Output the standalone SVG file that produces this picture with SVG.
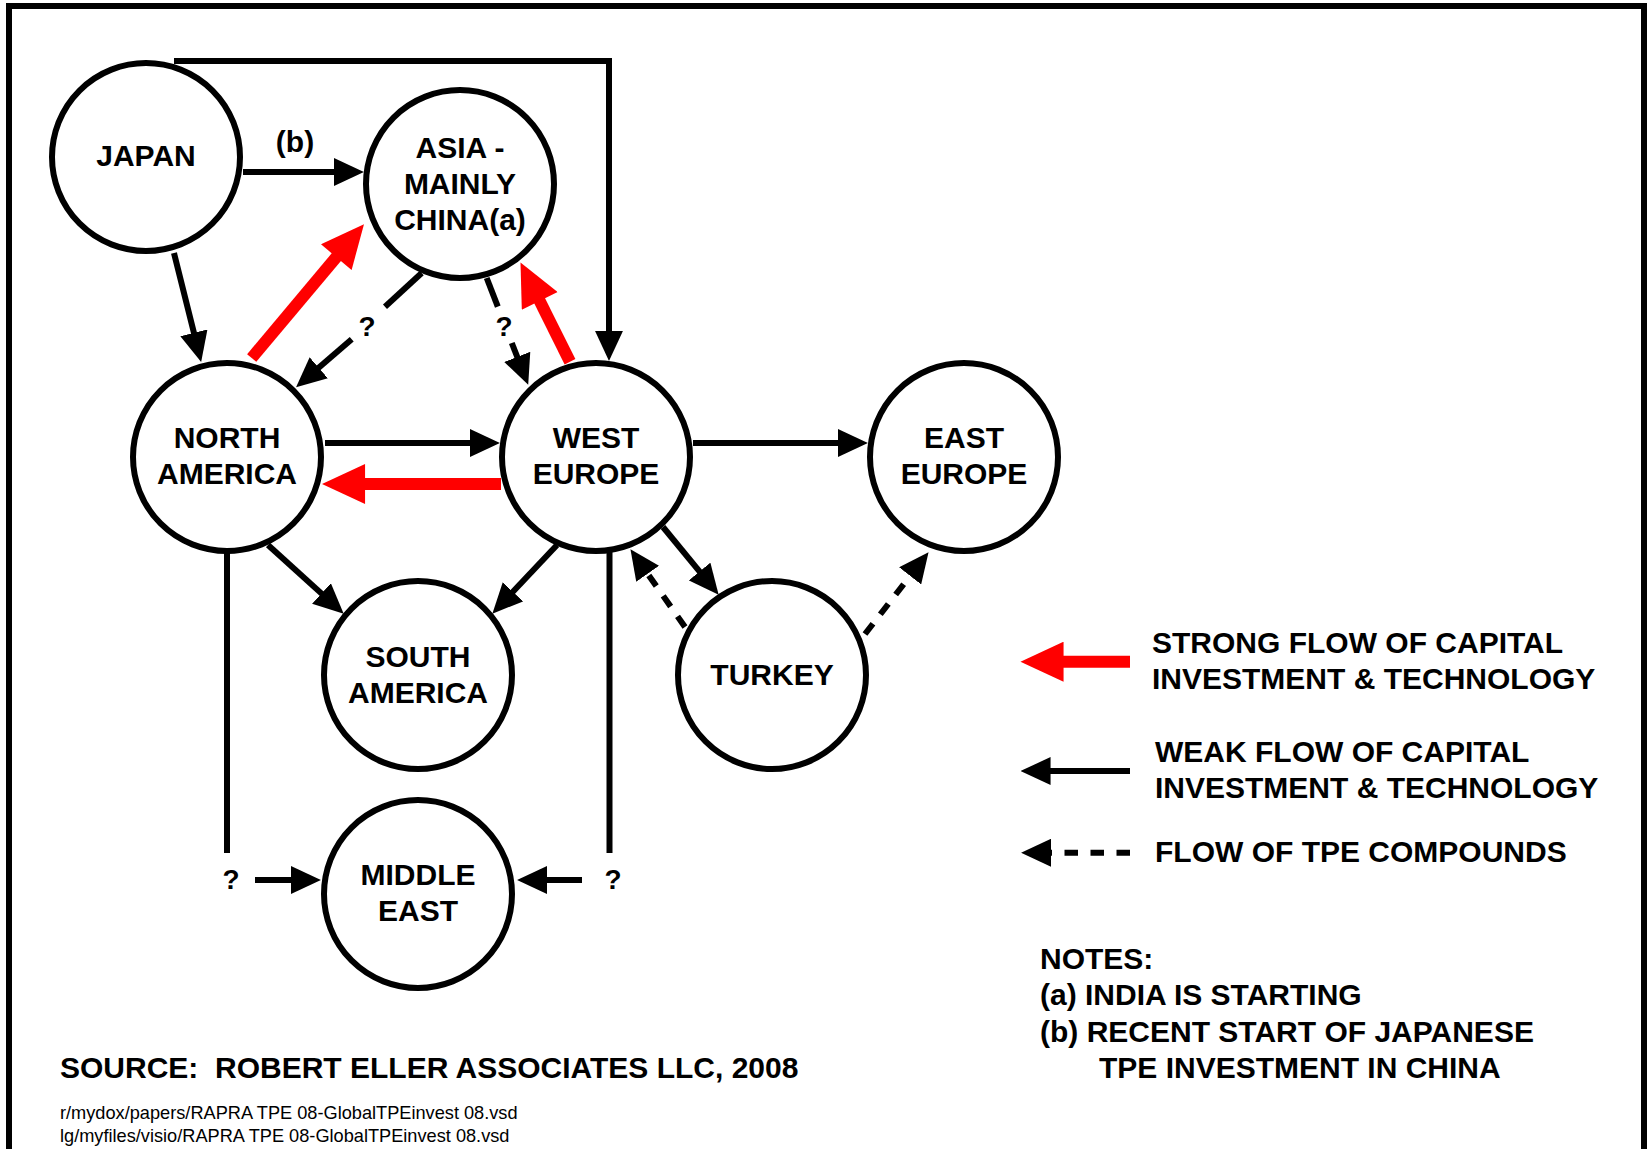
<svg xmlns="http://www.w3.org/2000/svg" width="1648" height="1149" viewBox="0 0 1648 1149">
<style>
.node circle{fill:#fff;stroke:#000;stroke-width:6}
text{font-family:"Liberation Sans",Arial,sans-serif;font-weight:bold;font-size:30px;fill:#000;white-space:pre}
.nt{text-anchor:middle}
.q{font-size:28px;text-anchor:middle}
.small{font-weight:normal;font-size:18.2px}
.blk{stroke:#000;stroke-width:6;fill:none}
.dash{stroke:#000;stroke-width:6;fill:none;stroke-dasharray:13 12}
.red{stroke:#ff0000;stroke-width:12;fill:none}
</style>
<defs>
<marker id="ah" markerUnits="userSpaceOnUse" markerWidth="30" markerHeight="28" viewBox="0 0 29 27" refX="2" refY="13.5" orient="auto">
<path d="M0,0 L29,13.5 L0,27 z" fill="#000"/>
</marker>
<marker id="ahr" markerUnits="userSpaceOnUse" markerWidth="44" markerHeight="40" viewBox="0 0 42 39" refX="2" refY="19.5" orient="auto">
<path d="M0,0 L42,19.5 L0,39 z" fill="#ff0000"/>
</marker>
</defs>
<rect x="0" y="0" width="1648" height="1149" fill="#fff"/>
<rect x="9" y="6" width="1635" height="1170" fill="none" stroke="#000" stroke-width="6"/>

<g id="connectors">
<line class="blk" x1="243" y1="172" x2="336" y2="172" marker-end="url(#ah)"/>
<line class="blk" x1="174" y1="253" x2="194.4" y2="334.8" marker-end="url(#ah)"/>
<polyline class="blk" points="174,61 609,61 609,333" marker-end="url(#ah)"/>
<line class="blk" x1="421.7" y1="273" x2="385" y2="306.7"/>
<line class="blk" x1="351.7" y1="339.3" x2="317.2" y2="369.1" marker-end="url(#ah)"/>
<line class="blk" x1="486.7" y1="278" x2="497.8" y2="306.7"/>
<line class="blk" x1="511.8" y1="343" x2="518" y2="358.8" marker-end="url(#ah)"/>
<line class="blk" x1="325" y1="443" x2="472" y2="443" marker-end="url(#ah)"/>
<line class="blk" x1="693" y1="443" x2="840" y2="443" marker-end="url(#ah)"/>
<line class="blk" x1="268" y1="545" x2="323" y2="594.9" marker-end="url(#ah)"/>
<line class="blk" x1="557" y1="545" x2="511.5" y2="593.3" marker-end="url(#ah)"/>
<line class="blk" x1="663" y1="527" x2="700.9" y2="573.1" marker-end="url(#ah)"/>
<line class="dash" x1="685" y1="627" x2="646.5" y2="572.1" marker-end="url(#ah)"/>
<line class="dash" x1="865" y1="634" x2="911.4" y2="574.3" marker-end="url(#ah)"/>
<line class="blk" x1="227" y1="550" x2="227" y2="853"/>
<line class="blk" x1="255" y1="880" x2="293" y2="880" marker-end="url(#ah)"/>
<line class="blk" x1="609.5" y1="550" x2="609.5" y2="853"/>
<line class="blk" x1="582" y1="880" x2="545" y2="880" marker-end="url(#ah)"/>
<line class="red" x1="251.7" y1="358" x2="337.6" y2="255.6" marker-end="url(#ahr)"/>
<line class="red" x1="570" y1="361.7" x2="538.8" y2="299.1" marker-end="url(#ahr)"/>
<line class="red" x1="501" y1="484" x2="363" y2="484" marker-end="url(#ahr)"/>
<text x="295" y="152" class="nt">(b)</text>
<text x="367" y="336" class="q">?</text>
<text x="504" y="336" class="q">?</text>
<text x="231" y="889" class="q">?</text>
<text x="613" y="889" class="q">?</text>
</g>

<g id="japan" class="node"><circle cx="146" cy="157" r="94"/><text class="nt" x="146" y="166">JAPAN</text></g>
<g id="asia" class="node"><circle cx="460" cy="184" r="94"/><text class="nt" x="460" y="158">ASIA -</text><text class="nt" x="460" y="194">MAINLY</text><text class="nt" x="460" y="230">CHINA(a)</text></g>
<g id="north-america" class="node"><circle cx="227" cy="457" r="94"/><text class="nt" x="227" y="448">NORTH</text><text class="nt" x="227" y="484">AMERICA</text></g>
<g id="west-europe" class="node"><circle cx="596" cy="457" r="94"/><text class="nt" x="596" y="448">WEST</text><text class="nt" x="596" y="484">EUROPE</text></g>
<g id="east-europe" class="node"><circle cx="964" cy="457" r="94"/><text class="nt" x="964" y="448">EAST</text><text class="nt" x="964" y="484">EUROPE</text></g>
<g id="south-america" class="node"><circle cx="418" cy="675" r="94"/><text class="nt" x="418" y="667">SOUTH</text><text class="nt" x="418" y="703">AMERICA</text></g>
<g id="turkey" class="node"><circle cx="772" cy="675" r="94"/><text class="nt" x="772" y="685">TURKEY</text></g>
<g id="middle-east" class="node"><circle cx="418" cy="894" r="94"/><text class="nt" x="418" y="885">MIDDLE</text><text class="nt" x="418" y="921">EAST</text></g>

<g id="legend">
<line class="red" x1="1130" y1="661.7" x2="1061.5" y2="661.7" marker-end="url(#ahr)"/>
<line class="blk" x1="1130" y1="771" x2="1048.5" y2="771" marker-end="url(#ah)"/>
<line class="blk" x1="1130" y1="852.7" x2="1049" y2="852.7" stroke-dasharray="13.5 12.5" marker-end="url(#ah)"/>
<text x="1152" y="653">STRONG FLOW OF CAPITAL</text>
<text x="1152" y="689">INVESTMENT &amp; TECHNOLOGY</text>
<text x="1155" y="762">WEAK FLOW OF CAPITAL</text>
<text x="1155" y="798">INVESTMENT &amp; TECHNOLOGY</text>
<text x="1155" y="862">FLOW OF TPE COMPOUNDS</text>
</g>

<g id="notes">
<text x="1040" y="969">NOTES:</text>
<text x="1040" y="1005">(a) INDIA IS STARTING</text>
<text x="1040" y="1042">(b) RECENT START OF JAPANESE</text>
<text x="1099" y="1078">TPE INVESTMENT IN CHINA</text>
<text x="60" y="1078" xml:space="preserve">SOURCE:  ROBERT ELLER ASSOCIATES LLC, 2008</text>
<text class="small" x="60" y="1119">r/mydox/papers/RAPRA TPE 08-GlobalTPEinvest 08.vsd</text>
<text class="small" x="60" y="1142">lg/myfiles/visio/RAPRA TPE 08-GlobalTPEinvest 08.vsd</text>
</g>
</svg>
